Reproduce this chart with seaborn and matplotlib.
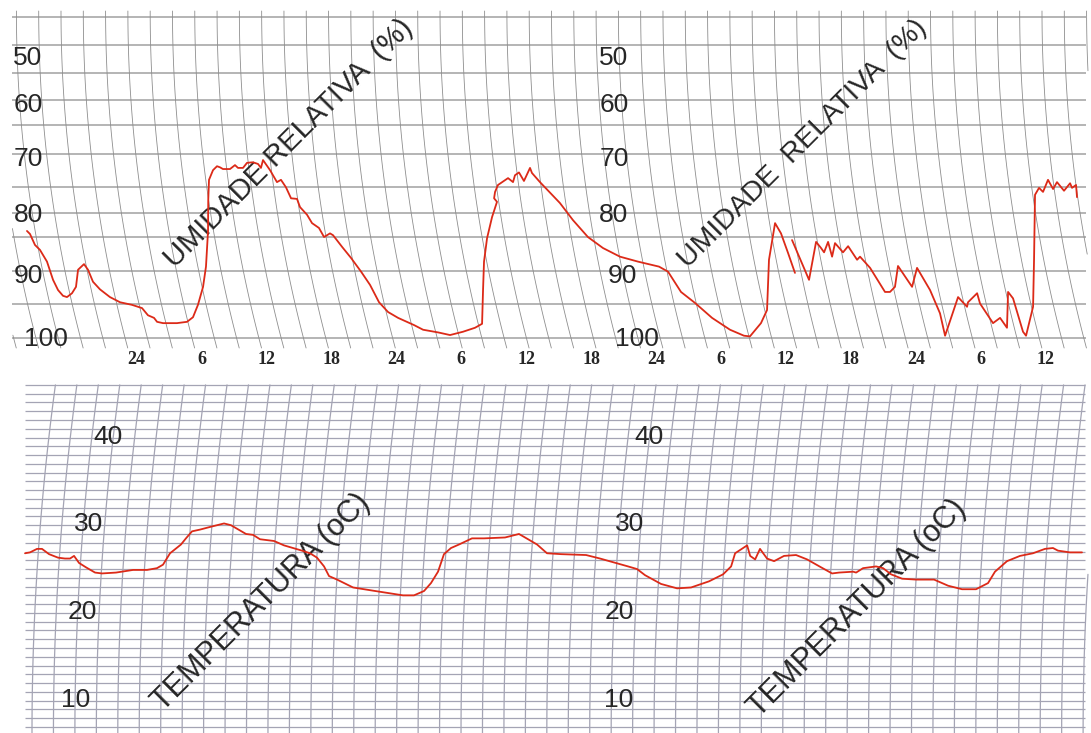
import matplotlib
matplotlib.use("Agg")
import matplotlib.pyplot as plt
import numpy as np
import seaborn as sns

# ---- data (hours after the first midnight) ----
# relative humidity pen, first stroke
rh_hours_a = [-10.13, -9.85, -9.39, -8.93, -8.28, -7.72, -7.26, -6.80, -6.43, -5.97,
              -5.60, -5.41, -4.86, -4.49, -4.03, -3.38, -2.46, -1.53, -0.43, 0.50,
              1.05, 1.61, 1.89, 2.44, 3.73, 4.66, 5.21, 5.67, 6.14, 6.41,
              6.60, 6.62, 6.69, 7.06, 7.43, 7.71, 7.98, 8.63, 9.09, 9.37,
              9.83, 10.20, 10.75, 11.22, 11.49, 11.68, 12.33, 12.97, 13.34, 13.80,
              14.27, 14.82, 15.10, 15.75, 16.21, 16.85, 17.32, 17.87, 18.15, 18.98,
              19.81, 20.74, 21.57, 22.40, 23.23, 24.16, 25.64, 26.47, 27.85, 28.96,
              30.16, 31.27, 31.92, 32.01, 32.10, 32.38, 32.84, 33.30, 33.03, 33.12,
              33.39, 34.32, 34.78, 34.96, 35.33, 35.79, 36.35, 36.53, 37.27, 39.11,
              40.32, 41.70, 43.09, 44.66, 46.33, 48.27, 49.10, 50.30, 51.59, 53.17,
              54.83, 56.12, 56.67, 57.69, 58.25, 58.43, 58.99, 59.54, 60.19, 60.83]
rh_values_a = [83.0, 83.5, 85.3, 86.1, 88.0, 90.9, 92.5, 93.4, 93.6, 93.0,
               92.0, 89.3, 88.4, 89.3, 91.2, 92.4, 93.6, 94.4, 94.8, 95.3,
               96.4, 96.8, 97.4, 97.6, 97.6, 97.4, 96.7, 94.8, 92.0, 88.8,
               83.0, 77.8, 74.3, 72.6, 71.9, 72.1, 72.4, 72.4, 71.7, 72.2,
               72.2, 71.3, 71.2, 71.5, 72.2, 70.8, 72.6, 74.7, 74.3, 75.6,
               77.5, 77.6, 79.0, 80.3, 81.7, 82.5, 84.0, 83.4, 83.7, 85.6,
               87.4, 89.6, 91.7, 94.4, 95.9, 96.8, 97.9, 98.6, 99.0, 99.4,
               98.9, 98.3, 97.7, 92.5, 88.0, 84.2, 80.7, 78.1, 77.5, 76.4,
               75.2, 74.0, 74.7, 73.5, 73.0, 74.5, 72.2, 73.1, 74.7, 78.3,
               81.2, 84.0, 85.8, 87.2, 88.0, 88.8, 89.6, 92.8, 94.5, 96.8,
               98.6, 99.5, 99.6, 97.6, 95.6, 87.7, 81.7, 83.4, 86.6, 89.8]
# relative humidity pen, second stroke (after the pen skip)
rh_hours_b = [60.56, 62.13, 62.78, 63.24, 63.52, 63.89, 64.26, 64.53, 65.27, 65.74,
              66.57, 66.84, 67.77, 69.15, 69.61, 70.07, 70.35, 71.65, 72.11, 73.31,
              74.23, 74.70, 75.90, 76.73, 76.82, 77.66, 77.93, 79.13, 79.78, 80.42,
              80.52, 80.98, 81.90, 82.18, 82.83, 82.92, 83.01, 83.38, 83.75, 84.21,
              84.68, 85.04, 85.69, 86.25, 86.43, 86.80, 86.89]
rh_values_b = [84.5, 90.9, 84.8, 85.8, 86.5, 84.8, 87.2, 85.0, 86.5, 85.5,
               87.7, 87.2, 89.0, 92.8, 92.8, 92.0, 88.7, 92.0, 89.0, 92.5,
               96.1, 99.5, 93.6, 95.1, 94.4, 93.0, 94.6, 97.6, 96.8, 98.3,
               92.8, 93.8, 98.9, 99.5, 95.1, 87.7, 76.9, 75.7, 76.4, 74.3,
               75.9, 74.7, 76.2, 74.9, 75.7, 75.2, 77.3]

temp_hours = [-10.31, -9.85, -9.20, -8.74, -8.09, -7.26, -6.62, -6.15, -5.78, -5.32,
              -4.68, -3.84, -3.20, -1.90, -0.33, 0.96, 1.88, 2.44, 3.09, 4.10,
              4.56, 5.12, 5.86, 6.78, 8.08, 8.72, 10.11, 10.76, 11.40, 12.70,
              13.62, 14.45, 15.28, 16.02, 16.67, 17.32, 17.78, 18.52, 20.00, 22.03,
              24.62, 25.63, 26.56, 27.20, 27.85, 28.40, 29.05, 29.79, 30.99, 32.10,
              34.04, 35.33, 36.17, 37.00, 37.92, 39.22, 41.53, 42.82, 45.41, 46.24,
              46.98, 48.46, 49.94, 51.23, 52.89, 54.19, 54.93, 55.30, 56.41, 56.69,
              57.15, 57.60, 58.25, 58.90, 59.82, 60.93, 61.95, 63.24, 64.26, 64.90,
              66.20, 66.48, 67.12, 68.32, 68.97, 69.71, 70.73, 72.02, 73.68, 74.98,
              76.27, 77.56, 78.67, 79.31, 80.42, 81.62, 82.82, 83.93, 84.67, 85.13,
              86.24, 87.35]
temp_values = [26.4, 26.5, 26.9, 26.9, 26.3, 25.9, 25.8, 25.8, 26.1, 25.3,
               24.8, 24.2, 24.1, 24.2, 24.5, 24.5, 24.7, 25.1, 26.4, 27.4,
               28.1, 28.9, 29.1, 29.4, 29.8, 29.6, 28.6, 28.5, 28.0, 27.8,
               27.3, 27.0, 26.7, 26.4, 25.9, 24.9, 23.8, 23.4, 22.5, 22.1,
               21.6, 21.6, 22.1, 23.0, 24.3, 26.3, 27.0, 27.4, 28.1, 28.1,
               28.2, 28.6, 28.0, 27.4, 26.4, 26.3, 26.2, 25.8, 24.9, 24.6,
               23.9, 22.9, 22.4, 22.5, 23.2, 24.0, 24.9, 26.4, 27.3, 26.1,
               25.7, 26.9, 25.8, 25.5, 26.1, 26.2, 25.7, 24.8, 24.1, 24.2,
               24.3, 24.2, 24.7, 24.9, 24.7, 24.0, 23.5, 23.4, 23.4, 22.7,
               22.3, 22.3, 23.0, 24.3, 25.5, 26.1, 26.4, 26.9, 27.0, 26.7,
               26.5, 26.5]

time_ticks = [0, 6, 12, 18, 24, 30, 36, 42, 48, 54, 60, 66, 72, 78, 84]
time_labels = ['24', '6', '12', '18', '24', '6', '12', '18',
               '24', '6', '12', '18', '24', '6', '12']
rh_scale_labels = [50, 60, 70, 80, 90, 100]
temp_scale_labels = [40, 30, 20, 10]

# ---- chart-paper layout ----
W, H = 1091, 733
PX_PER_HOUR = 10.823
HOUR0_PX = 136.6
TOP_H = 346          # top panel height in px
BOT_H = 367
RED = '#dc2a18'
GRID_TOP = '#a8a8a8'
ARC_TOP = '#8e8e8e'
GRID_BOT = '#a4a4b4'

# hygrograph paper has an uneven humidity scale
RH_A, RH_B = 4.806, 0.0187


def rh_fwd(v):
    u = np.asarray(v, dtype=float) - 50.0
    return RH_A * u + RH_B * u ** 2


def rh_inv(f):
    f = np.asarray(f, dtype=float)
    return 50.0 + (np.sqrt(np.maximum(RH_A ** 2 + 4 * RH_B * f, 0)) - RH_A) / (2 * RH_B)


def px_hour(px):
    return (px - HOUR0_PX) / PX_PER_HOUR


T_PX_PER_DEG = 8.77
T40_PX = 434

sns.set_style("white")
plt.rcParams['font.family'] = ['Liberation Sans', 'DejaVu Sans']

fig = plt.figure(figsize=(W / 100, H / 100), dpi=100)
top = fig.add_axes([0, 1 - TOP_H / H, 1, TOP_H / H])
bot = fig.add_axes([0, 0, 1, BOT_H / H])

# ---- humidity panel ----
sns.lineplot(x=rh_hours_a, y=rh_values_a, sort=False, estimator=None,
             color=RED, lw=1.3, ax=top, zorder=4)
sns.lineplot(x=rh_hours_b, y=rh_values_b, sort=False, estimator=None,
             color=RED, lw=1.3, ax=top, zorder=4)
top.set_yscale('function', functions=(rh_fwd, rh_inv))
top.set_xlim(px_hour(0), px_hour(W))
top.set_ylim(rh_inv(TOP_H - 52), rh_inv(-52))

rh_grid = [42.5, 48.5, 54.3, 59.6, 64.4, 69.7, 75.6, 80.0, 84.0, 89.5, 94.7, 99.8]
top.hlines(rh_grid, px_hour(12), px_hour(1086), colors=GRID_TOP, lw=1.2, zorder=1)

# time arcs of the hygrograph paper
ARC_R_TOP = 1300.0
rh_span = rh_inv(np.linspace(11 - 52, 348 - 52, 80))
depth = rh_fwd(rh_span) - rh_fwd(rh_span[0])
bend = (ARC_R_TOP - np.sqrt(ARC_R_TOP ** 2 - depth ** 2)) / PX_PER_HOUR
for k in range(-10, 48):
    xs = px_hour(61) + k * 2.06 + bend
    xs = np.where((xs >= px_hour(12)) & (xs <= px_hour(1088)), xs, np.nan)
    top.plot(xs, rh_span, color=ARC_TOP, lw=0.6, zorder=2, clip_on=False)

# scale numbers: left and right sheet, small pixel nudges per row
label_nudge = [6, 3, 3, 2, 2, 0]
for side in ('left', 'right'):
    for v, dy in zip(rh_scale_labels, label_nudge):
        if side == 'left':
            xc = px_hour(46) if v == 100 else px_hour(28)
        else:
            xc = {90: px_hour(622), 100: px_hour(637)}.get(v, px_hour(614))
        top.text(xc, rh_inv(rh_fwd(v) + dy), str(v), ha='center', va='center',
                 fontsize=19, zorder=3)

top.text(px_hour(175), 89.2, 'UMIDADE RELATIVA  (%)', rotation=45, rotation_mode='anchor',
         ha='left', va='baseline', fontsize=21, zorder=3)
top.text(px_hour(688), 89.2, 'UMIDADE  RELATIVA  (%)', rotation=45, rotation_mode='anchor',
         ha='left', va='baseline', fontsize=20.5, zorder=3)

top.set_xticks(time_ticks)
top.set_xticklabels(time_labels, fontfamily='Liberation Serif', fontweight='bold', fontsize=13)
top.tick_params(axis='x', length=0, pad=3.5)
top.set_yticks([])
top.set_xlabel('')
top.set_ylabel('')
for s in top.spines.values():
    s.set_visible(False)
top.patch.set_alpha(0)

# ---- temperature panel ----
sns.lineplot(x=temp_hours, y=temp_values, sort=False, estimator=None,
             color=RED, lw=1.3, ax=bot, zorder=4)
bot.set_xlim(px_hour(0), px_hour(W))
t_low = 40 - (H - T40_PX) / T_PX_PER_DEG
t_high = 40 + (T40_PX - (H - BOT_H)) / T_PX_PER_DEG
bot.set_ylim(t_low, t_high)

temp_grid = np.arange(6.6, 45.7, 1.0)
bot.hlines(temp_grid, px_hour(25), px_hour(1085), colors=GRID_BOT, lw=0.9, zorder=1)

ARC_R_BOT = 2600.0
t_span = np.linspace(t_low, 45.6, 80)
height = (t_span - t_span[0]) * T_PX_PER_DEG
bend_b = (ARC_R_BOT - np.sqrt(ARC_R_BOT ** 2 - height ** 2)) / PX_PER_HOUR
for k in range(0, 51):
    xs = px_hour(32) + k * 1.982 + bend_b
    xs = np.where(xs <= px_hour(1088), xs, np.nan)
    bot.plot(xs, t_span, color=GRID_BOT, lw=0.9, zorder=2)

temp_label_left = [px_hour(108), px_hour(89), px_hour(82), px_hour(76)]
temp_label_right = [px_hour(649), px_hour(630), px_hour(619), px_hour(619)]
for v, xl, xr in zip(temp_scale_labels, temp_label_left, temp_label_right):
    bot.text(xl, v, str(v), ha='center', va='center_baseline', fontsize=19, zorder=3)
    bot.text(xr, v, str(v), ha='center', va='center_baseline', fontsize=19, zorder=3)

bot.text(px_hour(163), 8.3, 'TEMPERATURA (oC)', rotation=45, rotation_mode='anchor',
         ha='left', va='baseline', fontsize=22, zorder=3)
bot.text(px_hour(759), 7.6, 'TEMPERATURA (oC)', rotation=45, rotation_mode='anchor',
         ha='left', va='baseline', fontsize=22, zorder=3)

bot.set_xticks([])
bot.set_yticks([])
bot.set_xlabel('')
bot.set_ylabel('')
for s in bot.spines.values():
    s.set_visible(False)
bot.patch.set_alpha(0)

fig.savefig('out.png', dpi=100)
